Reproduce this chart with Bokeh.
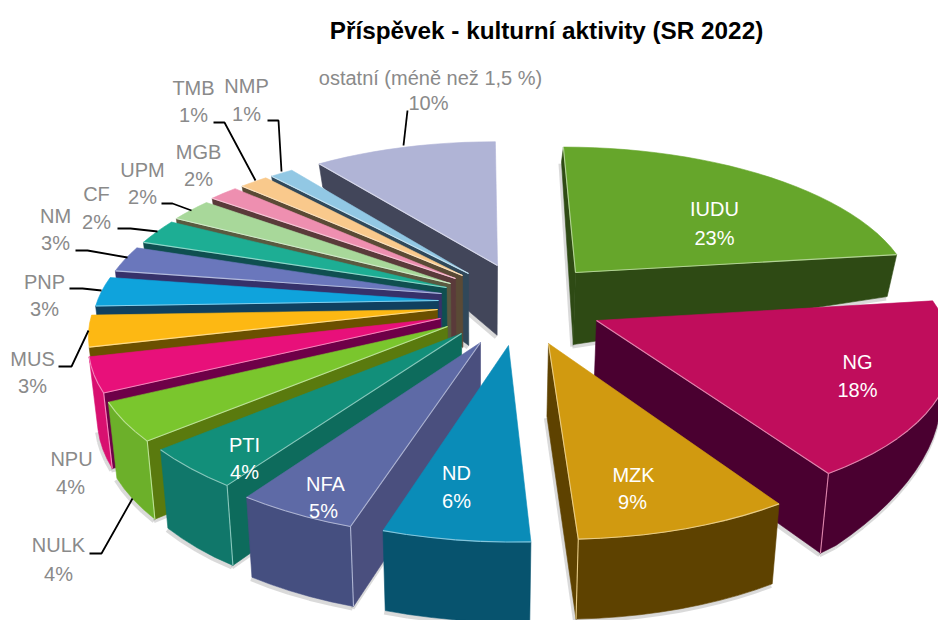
import math
from bokeh.plotting import figure
from bokeh.models import ColumnDataSource, Range1d
from bokeh.core.properties import value
from bokeh.embed import file_html
from bokeh.resources import INLINE

# ---- data -----
names = ["IUDU", "NG", "MZK", "ND", "NFA", "PTI", "NULK", "NPU", "MUS", "PNP", "NM", "CF", "UPM", "MGB", "TMB", "NMP", "ostatní (méně než 1,5 %)"]
shares = [23.0, 18.0, 8.4, 5.7, 4.7, 4.1, 3.9, 3.5, 3.2, 3.05, 2.7, 2.67, 2.4, 1.65, 1.6, 1.3, 10.23]
shown = ["23%", "18%", "9%", "6%", "5%", "4%", "4%", "4%", "3%", "3%", "3%", "2%", "2%", "2%", "1%", "1%", "10%"]

top_colors = ["#66A62B", "#C00D5C", "#D19A10", "#0A8CB8", "#5E6AA6", "#128F7A", "#7AC62D", "#E8107A", "#FDB813",
              "#0FA3DC", "#6A77BC", "#1DAE94", "#A8D89A", "#EE8FB0", "#F9C98C", "#92C8E4", "#B0B4D6"]
outer_colors = ["#2E4A14", "#4A0030", "#5E4200", "#07536E", "#454F80", "#10776A", "#6CB02A", "#D81070", "#E0A010",
                "#0C88B8", "#565FA0", "#189078", "#90C084", "#D07898", "#DDB078", "#7CB0CC", "#9498B8"]
radial_colors = ["#2E4A14", "#4A0030", "#5E4200", "#07536E", "#4A4F7E", "#0D6B5C", "#5A7A0E", "#6E0048", "#6B5000",
                 "#10405F", "#36316A", "#0F4F50", "#5A5A40", "#5A3A3A", "#5A4A35", "#30485A", "#42465A"]

# ---- layout (pixels of the 938x620 picture) -----
apex = [(575, 272), (596, 320), (548, 343), (508, 345), (480, 342), (461, 333), (447, 326), (440, 318), (437, 309),
        (438, 300), (441, 293), (446, 287), (450, 283), (455, 278), (462, 275), (468, 273), (497, 265)]
draw_order = [0, 1, 16, 15, 14, 13, 12, 11, 10, 9, 8, 7, 6, 5, 4, 3, 2]
CX, CY, R, KR, C = 480.0, 300.0, 341.0, 152.0, 0.15

FONT = value("Liberation Sans")
GREY = "#8A8A8A"
label_pos = {
    0: ((714, 208), (714, 237), "white"), 1: ((857, 361), (857, 389), "white"), 2: ((633, 474), (632, 501), "white"),
    3: ((456, 472), (456, 500), "white"), 4: ((325, 483), (323, 510), "white"), 5: ((244, 444), (244, 471), "white"),
    6: ((58, 544), (58, 573), GREY), 7: ((71, 458), (70, 486), GREY), 8: ((32, 358), (32, 385), GREY),
    9: ((44, 281), (44, 308), GREY), 10: ((55, 215), (55, 242), GREY), 11: ((96, 193), (96, 221), GREY),
    12: ((142, 169), (142, 196), GREY), 13: ((198, 151), (198, 178), GREY), 14: ((193, 87), (193, 114), GREY),
    15: ((246, 85), (246, 113), GREY), 16: ((430, 77), (428, 102), GREY),
}
leaders = [[(407, 110), (403, 145)], [(267, 120), (278, 120), (281, 171)], [(213, 122), (224, 122), (255, 180)],
           [(161, 203), (172, 203), (191, 210)], [(117, 228), (130, 228), (157, 231)], [(75, 250), (87, 250), (127, 257)],
           [(69, 288), (82, 288), (101, 290)], [(58, 366), (71, 366), (88, 330)], [(89, 553), (101, 553), (132, 498)]]


def proj(X, Y):
    s = 1 / (1 + C * Y)
    return CX + R * X * s, CY - KR * Y * s


def unproj(sx, sy):
    dy = CY - sy
    Y = dy / (KR - dy * C)
    s = 1 / (1 + C * Y)
    return (sx - CX) / (R * s), Y


def depth(X, Y):
    d = 72 - 58 * max(0, Y - 0.2) + 8 * min(1, max(0, -Y - 0.2) / 0.8)
    d *= 1 - 0.33 * max(0, X - 0.9) / 0.35
    return d


def bottom(X, Y):
    sx, sy = proj(X, Y)
    return CX + (sx - CX) * 0.977, sy + depth(X, Y)


def area(pts):
    return sum(pts[i][0] * pts[(i + 1) % len(pts)][1] - pts[(i + 1) % len(pts)][0] * pts[i][1] for i in range(len(pts))) / 2


def blend(c, t):
    r, g, b = (int(c[i:i + 2], 16) for i in (1, 3, 5))
    return "#%02X%02X%02X" % tuple(int(v + (255 - v) * t) for v in (r, g, b))


total = sum(shares)
starts, a = [], 0.0
for v in shares:
    starts.append(a)
    a += v / total * 2 * math.pi

p = figure(width=938, height=620, x_range=Range1d(0, 938), y_range=Range1d(620, 0), x_axis_type=None, y_axis_type=None,
           output_backend="svg", toolbar_location=None, min_border=0, outline_line_color=None, background_fill_color="white")
p.grid.visible = False

for i in draw_order:
    a0, a1 = starts[i], starts[i] + shares[i] / total * 2 * math.pi
    AX, AY = unproj(*apex[i])
    n = max(4, int((a1 - a0) / math.radians(3)))
    ground = [(AX, AY)] + [(AX + math.sin(a0 + (a1 - a0) * k / n), AY + math.cos(a0 + (a1 - a0) * k / n)) for k in range(n + 1)]
    tops = [proj(*g) for g in ground]
    bots = [bottom(*g) for g in ground]
    m = len(ground)
    faces, edges, shadow = [], [], []
    vis = []
    for k in range(m):
        q = (k + 1) % m
        vis.append(area([tops[k], tops[q], bots[q], bots[k]]) * area(tops) < 0)
    # radial walls
    for k in (0, m - 1):
        q = (k + 1) % m
        if vis[k]:
            faces.append(([tops[k], tops[q], bots[q], bots[k]], radial_colors[i]))
    # outer wall as one polygon per visible run of arc pieces
    run = []
    for k in list(range(1, m - 1)) + [None]:
        if k is not None and vis[k]:
            run.append(k)
        elif run:
            idx = run + [run[-1] + 1]
            faces.append(([tops[j] for j in idx] + [bots[j] for j in reversed(idx)], outer_colors[i]))
            run = []
    for k in range(m):
        q = (k + 1) % m
        if vis[k]:
            edges.append([tops[k], tops[q]])
            shadow.append([(bots[k][0] - 1, bots[k][1] + 2), (bots[q][0] - 1, bots[q][1] + 2)])
    light = blend(top_colors[i], 0.5)
    corners = []
    if vis[0] and vis[1]:
        corners.append([tops[1], bots[1]])
    if vis[m - 1] and vis[m - 2]:
        corners.append([tops[m - 1], bots[m - 1]])
    if shadow:
        p.multi_line([[c[0] for c in s] for s in shadow], [[c[1] for c in s] for s in shadow],
                     line_color="#555555", line_alpha=0.22, line_width=4)
    src = ColumnDataSource(dict(xs=[[c[0] for c in f[0]] for f in faces], ys=[[c[1] for c in f[0]] for f in faces],
                                col=[f[1] for f in faces]))
    p.patches("xs", "ys", source=src, fill_color="col", line_color="col", line_width=0.6)
    p.patch([t[0] for t in tops], [t[1] for t in tops], fill_color=top_colors[i], line_color=top_colors[i], line_width=0.6)
    lines = edges + corners
    if lines:
        p.multi_line([[c[0] for c in s] for s in lines], [[c[1] for c in s] for s in lines],
                     line_color=light, line_width=1.1)

p.multi_line([[c[0] for c in s] for s in leaders], [[c[1] for c in s] for s in leaders], line_color="black", line_width=1.8)

for i, (pos1, pos2, col) in label_pos.items():
    p.text([pos1[0]], [pos1[1]], text=[names[i]], text_font=FONT, text_font_size="20px", text_color=col,
           text_align="center", text_baseline="middle")
    p.text([pos2[0]], [pos2[1]], text=[shown[i]], text_font=FONT, text_font_size="20px", text_color=col,
           text_align="center", text_baseline="middle")

p.text([546], [30], text=["Příspěvek - kulturní aktivity (SR 2022)"], text_font=FONT, text_font_style="bold",
       text_font_size="24.3px", text_color="black", text_align="center", text_baseline="middle")

open("out.html", "w").write(file_html(p, INLINE))
